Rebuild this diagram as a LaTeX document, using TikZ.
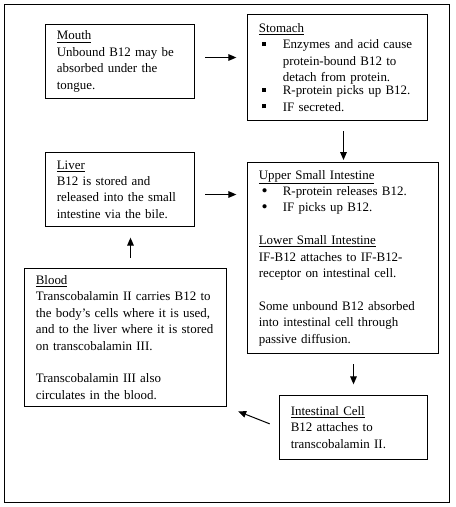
\documentclass[tikz,border=0pt]{standalone}
\usepackage{fontspec}
\setmainfont{Liberation Serif}
\usetikzlibrary{arrows.meta}
\newcommand{\sqmark}{\rule[2.2pt]{3pt}{3pt}}
\newcommand{\dotmark}{\raisebox{-.6pt}{\fontsize{13}{12}\selectfont\textbullet}}
\newcommand{\blt}[2]{\hspace*{2pt}\makebox[16pt][l]{#1}\parbox[t]{105pt}{\raggedright #2}}
\begin{document}
\begin{tikzpicture}[x=.75pt,y=-.75pt,every node/.style={font=\fontsize{9.7}{12.3}\selectfont}]
 \tikzstyle{blk} = [draw, line width=.75pt, anchor=north west, align=left, inner xsep=8.5pt, inner ysep=3pt]
    \tikzstyle{arr} = [line width=.75pt, -{Triangle[length=6pt,width=5pt]}, shorten <=7.5pt, shorten >=8pt]
    %%
    \useasboundingbox (0,0) rectangle (455,507);
    \draw[line width=.75pt] (4,4) rectangle (449,502);

        \node[blk,text width=94.75pt,minimum height=55.5pt] (mouth) at (45,24)
          {\underline{Mouth}\\Unbound B12 may be\\absorbed under the\\tongue.};
        \node[blk,text width=118pt,minimum height=79.5pt] (stomach) at (247,14)
          {\underline{Stomach}\\
           \blt{\sqmark}{Enzymes and acid cause\\protein-bound B12 to\\detach from protein.}\\
           \blt{\sqmark}{R-protein picks up B12.}\\
           \blt{\sqmark}{IF secreted.}};
        \node[blk,text width=94.75pt,minimum height=55.5pt] (liver) at (45,152)
          {\underline{Liver}\\B12 is stored and\\released into the small\\intestine via the bile.};
        \node[blk,text width=126.25pt,minimum height=143.25pt] (upper) at (247,162)
          {\underline{Upper Small Intestine}\\
           \blt{\dotmark}{R-protein releases B12.}\\
           \blt{\dotmark}{IF picks up B12.}\\[12.3pt]
           \underline{Lower Small Intestine}\\IF-B12 attaches to IF-B12-\\receptor on intestinal cell.\\[12.3pt]
           Some unbound B12 absorbed\\into intestinal cell through\\passive diffusion.};
        \node[blk,text width=134.5pt,minimum height=103.5pt] (blood) at (24,268)
          {\underline{Blood}\\\mbox{Transcobalamin II carries B12 to}\\\mbox{the body's cells where it is used,}\\
           \mbox{and to the liver where it is stored}\\on transcobalamin III.\\[12.3pt]
           Transcobalamin III also\\circulates in the blood.};
        \node[blk,text width=94pt,minimum height=48pt] (cell) at (279,395)
          {\underline{Intestinal Cell}\\B12 attaches to\\transcobalamin II.};

        \draw[arr] ([yshift=3pt]mouth.east) -- ([yshift=3pt]mouth.east -| stomach.west);
        \draw[arr,shorten >=1.5pt] ([xshift=4.5pt]stomach.south) -- ([xshift=4.5pt]stomach.south |- upper.north);
        \draw[arr] ([yshift=-3.75pt]liver.east) -- ([yshift=-3.75pt]liver.east -| upper.west);
        \draw[arr] ([xshift=3.75pt]blood.north) -- ([xshift=3.75pt]blood.north |- liver.south);
        \draw[arr] (upper.south -| cell.north) -- (cell.north);
        \draw[arr,shorten >=9pt] (cell.west) -- (blood.south east);

\end{tikzpicture}
\end{document}
